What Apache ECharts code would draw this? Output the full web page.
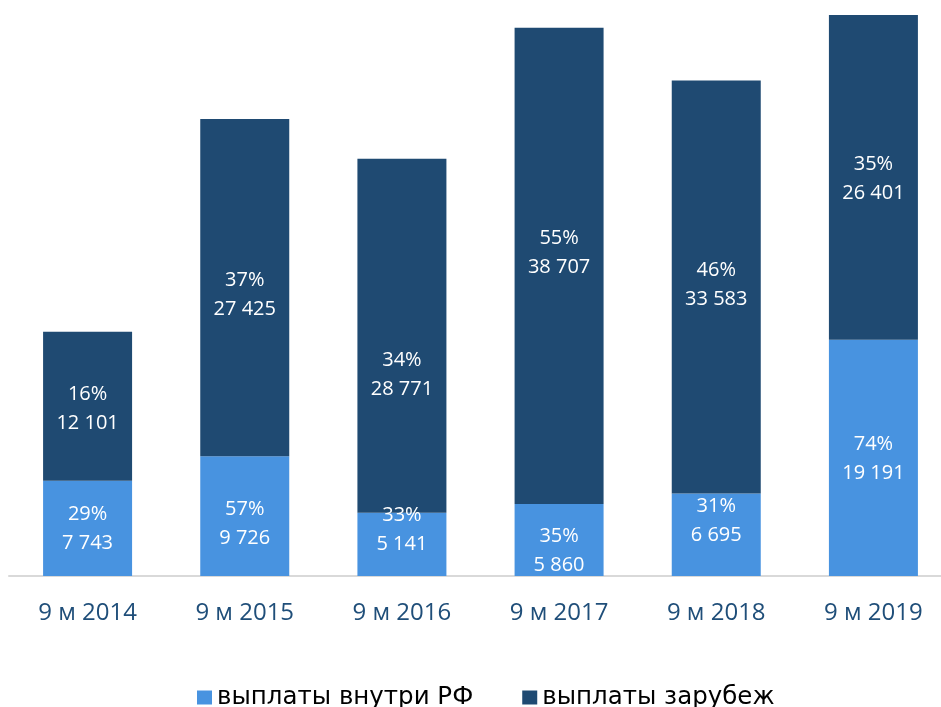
<!DOCTYPE html>
<html>
<head>
<meta charset="utf-8">
<script src="https://cdn.jsdelivr.net/npm/echarts@6/dist/echarts.min.js"></script>
<style>
  html, body { margin: 0; padding: 0; background: #fff; }
  #chart { width: 941px; height: 707px; }
</style>
</head>
<body>
<div id="chart"></div>
<script>
var categories = ['9 м 2014', '9 м 2015', '9 м 2016', '9 м 2017', '9 м 2018', '9 м 2019']
var domestic = [7743, 9726, 5141, 5860, 6695, 19191]
var domesticPct = [29, 57, 33, 35, 31, 74]
var abroad = [12101, 27425, 28771, 38707, 33583, 26401]
var abroadPct = [16, 37, 34, 55, 46, 35]

// label shifts (px) to follow the hand-placed labels of the original
var domesticShift = [0, 8, -15, 11, -14, 1]
var abroadShift = [3, 7, 39, -13, -2, 1]

function fmt(v) {
  return String(v).replace(/\B(?=(\d{3})+(?!\d))/g, ' ')
}

function buildData(values, shifts) {
  return values.map(function (v, i) {
    return { value: v, label: { offset: [0, shifts[i]] } }
  })
}

function makeLabel(pcts) {
  return {
    show: true,
    position: 'inside',
    color: '#fff',
    fontFamily: 'Open Sans',
    fontSize: 20,
    lineHeight: 29,
    formatter: function (p) {
      return pcts[p.dataIndex] + '%\n' + fmt(p.value)
    }
  }
}

var chart = echarts.init(document.getElementById('chart'))
chart.setOption({
  animation: false,
  grid: { left: 9, top: 10, right: -11, bottom: 131, outerBoundsMode: 'none' },
  legend: {
    top: 680,
    left: 192,
    itemWidth: 15,
    itemHeight: 14,
    itemGap: 49,
    icon: 'rect',
    textStyle: { fontFamily: 'DejaVu Sans', fontSize: 24.5, color: '#000' },
    data: ['выплаты внутри РФ', 'выплаты зарубеж']
  },
  xAxis: {
    type: 'category',
    data: categories,
    axisLine: { lineStyle: { color: '#d9d9d9', width: 2 } },
    axisTick: { show: false },
    axisLabel: { color: '#1f4e79', fontFamily: 'Open Sans', fontSize: 24, margin: 25 }
  },
  yAxis: {
    type: 'value',
    min: 0,
    max: 46000,
    show: false,
    splitLine: { show: false }
  },
  series: [{
    name: 'выплаты внутри РФ',
    type: 'bar',
    stack: 'total',
    barWidth: 89,
    itemStyle: { color: '#4893e0' },
    label: makeLabel(domesticPct),
    data: buildData(domestic, domesticShift)
  }, {
    name: 'выплаты зарубеж',
    type: 'bar',
    stack: 'total',
    barWidth: 89,
    itemStyle: { color: '#1f4a72' },
    label: makeLabel(abroadPct),
    data: buildData(abroad, abroadShift)
  }]
})
</script>
</body>
</html>
